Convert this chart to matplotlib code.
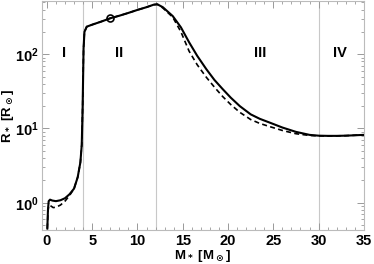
import matplotlib
matplotlib.use("Agg")
import matplotlib.pyplot as plt
from matplotlib.ticker import MultipleLocator, LogLocator, NullFormatter

plt.rcParams['font.family'] = ['Liberation Sans', 'DejaVu Sans']
plt.rcParams['font.weight'] = 'bold'
plt.rcParams['mathtext.default'] = 'bf'

# solid model
m_solid = [0.05, 0.12, 0.2, 0.35, 0.6, 1.0, 1.5, 2.0, 2.5, 3.0, 3.4, 3.7, 3.85, 3.95,
           4.05, 4.15, 4.4, 5.0, 6.0, 7.0, 8.0, 9.0, 10.0, 11.0, 11.8, 12.2, 12.8,
           13.9, 14.8, 15.7, 16.6, 17.6, 18.5, 19.4, 20.3, 21.3, 22.5, 23.5, 24.6,
           26.0, 27.5, 29.0, 30.0, 31.0, 32.0, 33.0, 34.0, 35.0]
r_solid = [0.45, 0.8, 1.05, 1.1, 1.07, 1.05, 1.08, 1.15, 1.3, 1.55, 2.2, 3.5, 6.0, 20.0,
           120, 200, 235, 250, 275, 305, 330, 360, 395, 430, 465, 470, 430,
           326, 230, 145, 95, 63, 45, 34, 26, 20, 15.5, 13.5, 12.0,
           10.3, 9.0, 8.2, 8.0, 7.95, 7.95, 8.0, 8.1, 8.2]

# dashed model
m_dash = [0.05, 0.12, 0.2, 0.35, 0.7, 1.0, 1.5, 2.0, 2.5, 2.8, 3.0, 3.4, 3.7, 3.85, 3.95,
          4.05, 4.15, 4.4, 5.0, 6.0, 7.0, 8.0, 9.0, 10.0, 11.0, 11.8, 12.2, 12.8,
          13.9, 14.8, 15.7, 16.6, 17.6, 18.5, 19.4, 20.3, 21.3, 22.5, 23.5, 24.6,
          26.0, 27.5, 29.0, 30.0, 31.0, 32.0, 33.0, 34.0, 35.0]
r_dash = [0.45, 0.75, 0.92, 0.92, 0.86, 0.87, 0.93, 1.05, 1.25, 1.42, 1.55, 2.2, 3.5, 6.0, 20.0,
          120, 200, 235, 250, 275, 305, 330, 360, 395, 430, 465, 470, 420,
          315, 200, 110, 72, 49, 36, 27, 21, 16.5, 13.2, 11.7, 10.6,
          9.4, 8.5, 8.05, 7.95, 7.92, 7.95, 8.0, 8.1, 8.2]

circle_m = [7.0]
circle_r = [305]

phase_bounds = [4, 12, 30]
phase_labels = ['I', 'II', 'III', 'IV']
phase_label_x = [1.9, 8.0, 23.5, 32.3]

fig = plt.figure(figsize=(3.74, 2.64), dpi=100)
ax = fig.add_axes([0.112, 0.129, 0.861, 0.867])

for b in phase_bounds:
    ax.axvline(b, color='#c8c8c8', lw=0.8, zorder=1)

ax.plot(m_dash, r_dash, color='black', lw=1.2, ls=(0, (3, 2)), zorder=3)
ax.plot(m_solid, r_solid, color='black', lw=1.5, zorder=4)
ax.plot(circle_m, circle_r, 'o', mfc='none', mec='black', ms=5, mew=1.2, zorder=5)

for lab, x in zip(phase_labels, phase_label_x):
    ax.text(x, 105, lab, ha='center', va='center', fontsize=10.5, fontweight='bold')

ax.set_yscale('log')
ax.set_xlim(-0.55, 35)
ax.set_ylim(0.43, 520)
ax.xaxis.set_major_locator(MultipleLocator(5))
ax.xaxis.set_minor_locator(MultipleLocator(1))
ax.yaxis.set_major_locator(LogLocator(base=10, numticks=10))
ax.yaxis.set_minor_locator(LogLocator(base=10, subs=range(2, 10), numticks=20))
ax.yaxis.set_minor_formatter(NullFormatter())

ax.tick_params(which='both', direction='in', top=True, right=True, color='#999999',
               labelsize=10.5)
ax.tick_params(which='major', length=5, width=0.7)
ax.tick_params(which='minor', length=2.5, width=0.6)
ax.tick_params(axis='x', pad=3)
ax.tick_params(axis='y', pad=2)
for s in ax.spines.values():
    s.set_color('#bbbbbb')
    s.set_linewidth(0.8)

ax.set_xlabel(r'M$_*$ [M$_\odot$]', fontsize=9.5, fontweight='bold')
ax.set_ylabel(r'R$_*$ [R$_\odot$]', fontsize=9.5, fontweight='bold')
ax.xaxis.set_label_coords(0.5, -0.078)
ax.yaxis.set_label_coords(-0.08, 0.5)

fig.savefig('out.png', dpi=100)
